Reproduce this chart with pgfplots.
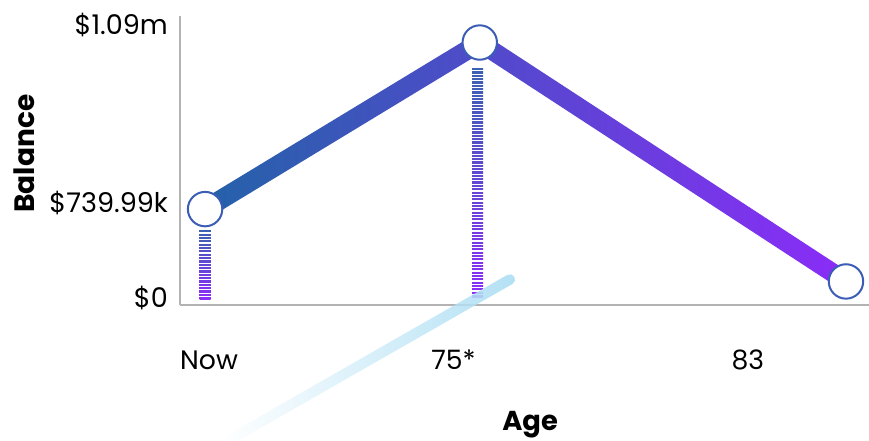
\documentclass[border=0pt]{standalone}
\usepackage{fontspec}
\setmainfont{Poppins}
\usepackage{pgfplots}
\pgfplotsset{compat=1.18}
\usepackage{pgfplotstable}
\usetikzlibrary{fadings}
\definecolor{lineL}{HTML}{2462A8}
\definecolor{lineR}{HTML}{8B2CF8}
\definecolor{stripT}{HTML}{3A62B0}
\definecolor{stripB}{HTML}{8B2CF8}
\definecolor{ring}{HTML}{3B5DB6}
\definecolor{axgray}{HTML}{B3B3B3}
\definecolor{glare}{HTML}{B3E1F4}
\tikzfading[name=fadeleft, left color=transparent!100, right color=transparent!0]

\pgfplotstableread{
age bal
69 739.99
75 1090
83 588
}\balancedata

\begin{document}
\begin{tikzpicture}
\begin{axis}[name=ax,
  x=34.3125pt, y=0.35677pt,
  xmin=68.454, xmax=83.503, ymin=539.23, ymax=1145.7,
  axis x line*=bottom, axis y line*=left,
  axis line style={axgray, line width=1.6pt},
  major tick length=0pt,
  xtick={69.087,74.427,80.858}, xticklabels={Now,75*,83},
  ytick={552.9,752.6,1126.8}, yticklabels={\$0,\$739.99k,\$1.09m},
  xticklabel style={font=\fontsize{20}{24}\selectfont, inner sep=0pt, anchor=base, yshift=-48.4pt},
  yticklabel style={font=\fontsize{20.3}{24}\selectfont, inner sep=0pt, anchor=east, xshift=-9pt},
  xlabel={Age}, ylabel={Balance},
  xlabel style={font=\fontsize{20.5}{25}\selectfont\bfseries, inner sep=0pt, at={(axis description cs:0.508,-0.416)}, anchor=center},
  ylabel style={font=\fontsize{21}{25}\selectfont\bfseries, inner sep=0pt, at={(axis description cs:-0.2264,0.5234)}, anchor=center},
  clip=false,
]
% striped drop lines
\addplot[draw=none, top color=stripT, bottom color=stripB] coordinates {(68.882,697.9) (69.118,697.9) (69.118,550.8) (68.882,550.8)} -- cycle;
\addplot[white, line width=9pt, dash pattern=on 0.8pt off 1.7pt] coordinates {(69,697.9) (69,550.8)};
\addplot[draw=none, top color=stripT, bottom color=stripB] coordinates {(74.838,1038.5) (75.074,1038.5) (75.074,555.0) (74.838,555.0)} -- cycle;
\addplot[white, line width=9pt, dash pattern=on 0.8pt off 1.7pt] coordinates {(74.956,1038.5) (74.956,555.0)};
% thick gradient line
\addplot[draw=none, left color=lineL, right color=lineR] coordinates {(69,763.49) (75,1113.5) (83,611.5) (83,564.5) (75,1066.5) (69,716.49)} -- cycle;
% markers
\addplot[only marks, mark=*, mark size=12.9pt, mark options={fill=white, draw=ring, line width=1.5pt}] table[x=age,y=bal] {\balancedata};
% faint glare stroke
\addplot[glare, line width=7.8pt, line cap=round, path fading=fadeleft] coordinates {(69.437,250.2) (75.656,592.2)};
\end{axis}
\pgfresetboundingbox
\path ([xshift=-135pt,yshift=-101.625pt]ax.south west) rectangle ([yshift=12pt]ax.north east);
\end{tikzpicture}
\end{document}
